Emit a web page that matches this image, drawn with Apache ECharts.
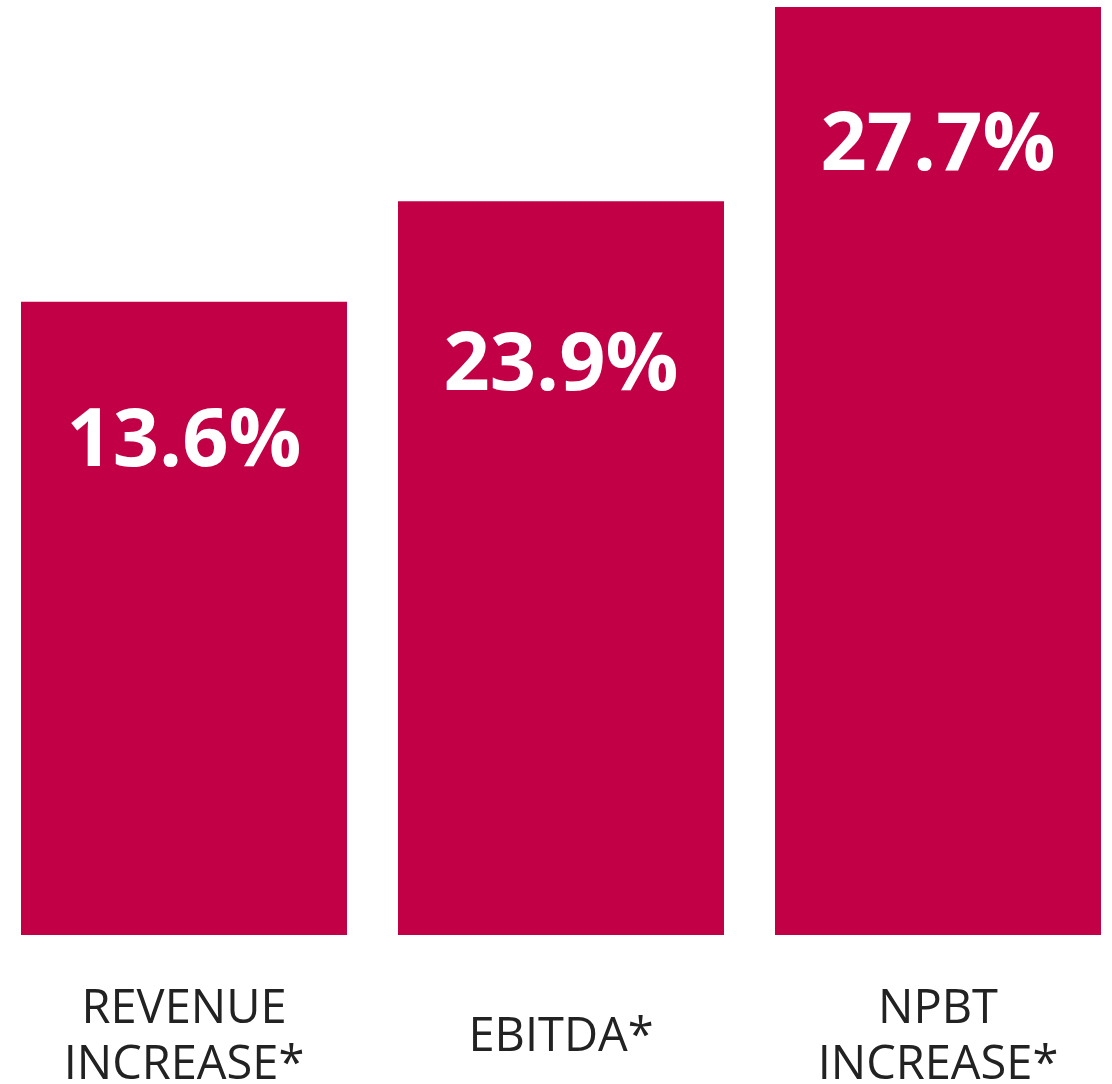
<!DOCTYPE html>
<html>
<head>
<meta charset="utf-8">
<style>
  html, body { margin: 0; padding: 0; background: #ffffff; }
  #chart { width: 1112px; height: 1084px; }
</style>
<script src="https://cdn.jsdelivr.net/npm/echarts@6/dist/echarts.min.js"></script>
</head>
<body>
<div id="chart"></div>
<script>
// Categories (two-line labels)
const categories = ['REVENUE\nINCREASE*', 'EBITDA*', 'NPBT\nINCREASE*'];
// Printed values (percent)
const growthValues = [13.6, 23.9, 27.7];
// Bar heights as drawn in the graphic (same scale as the tallest bar)
const barLevels = [18.9, 21.9, 27.7];

const labelDrop = [141, 166, 140];

const chart = echarts.init(document.getElementById('chart'), null, { renderer: 'canvas' });

const option = {
  animation: false,
  backgroundColor: '#ffffff',
  grid: { left: -4.5, width: 1131, top: 7, bottom: 149, containLabel: false, outerBoundsMode: 'none' },
  xAxis: {
    type: 'category',
    data: categories,
    axisLine: { show: false },
    axisTick: { show: false },
    axisLabel: {
      interval: 0,
      margin: 103,
      verticalAlign: 'middle',
      color: '#222222',
      fontFamily: 'Open Sans',
      fontSize: 47,
      lineHeight: 56
    }
  },
  yAxis: {
    type: 'value',
    min: 0,
    max: 27.7,
    show: false,
    splitLine: { show: false }
  },
  series: [{
    type: 'bar',
    barWidth: 326,
    itemStyle: { color: '#C20046' },
    data: barLevels.map((v, i) => ({
      value: v,
      label: {
        show: true,
        position: ['50%', labelDrop[i]],
        align: 'center',
        verticalAlign: 'middle',
        formatter: growthValues[i].toFixed(1) + '%',
        color: '#ffffff',
        fontFamily: 'Open Sans',
        fontWeight: 'bold',
        fontSize: 81
      }
    }))
  }]
};

chart.setOption(option);
</script>
</body>
</html>
